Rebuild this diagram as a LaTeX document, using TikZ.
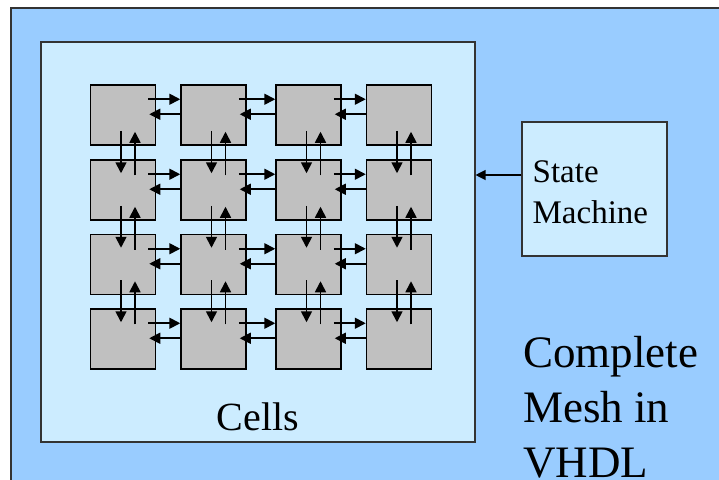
\documentclass[tikz,border=0pt]{standalone}
\usepackage{fontspec}
\setmainfont{Liberation Serif}
\usetikzlibrary{positioning, arrows.meta, calc}
\definecolor{meshbg}{HTML}{99CCFF}
\definecolor{panelbg}{HTML}{CCECFF}
\definecolor{cellgray}{HTML}{C0C0C0}
\tikzset{
  cell/.style ={draw=black, fill=cellgray, line width=1.5pt, minimum width=65pt,
                minimum height=60pt, inner sep=0pt},
  panel/.style={draw=black!80, fill=panelbg, line width=1.1pt, inner sep=0pt},
  flow/.style ={-{Triangle[length=11pt,width=11pt]}, line width=1.7pt},
  ctrl/.style ={-{Triangle[length=10pt,width=10pt]}, line width=1.2pt},
  lbl/.style  ={font=\fontsize{40}{48}\selectfont, anchor=base},
  small/.style={font=\fontsize{33}{41}\selectfont, align=left, inner sep=0pt},
  big/.style  ={font=\fontsize{45}{55}\selectfont, align=left, inner sep=0pt},
}
\begin{document}
\begin{tikzpicture}[x=1pt, y=-1pt]
  \useasboundingbox (0,0) rectangle (719,479);
  \clip (0,0) rectangle (719,479);
  \draw[draw=black!80, line width=1.1pt, fill=meshbg] (11,8) rectangle (740,500);
  \node[panel, minimum width=434pt, minimum height=400pt] (cells) at (258,242) {};
  \node[lbl] (cellstxt) at ($(cells.south)+(0,-12)$) {Cells};
  \node[panel, minimum width=145pt, minimum height=134pt] (fsm) at (594.5,189) {};
  \node[small, anchor=base west] (fsmtxt) at ([xshift=11pt,yshift=-102pt]fsm.north west) {State\\Machine};
  \draw[ctrl] ([yshift=14pt]fsm.west) -- ([yshift=14pt]fsm.west -| cells.east);
  \node[big, anchor=base west] (title) at (523,477) {Complete\\Mesh in\\VHDL};
  % 4x4 mesh of cells
  \foreach \i/\py in {1/115,2/190,3/264.5,4/339} {
    \foreach \j/\px in {1/123,2/213.5,3/308.5,4/399} {
      \node[cell] (c\i\j) at (\px,\py) {};
    }
  }
  % east/west links
  \foreach \i in {1,2,3,4} {
    \foreach \j in {1,2,3} {
      \pgfmathtruncatemacro{\k}{\j+1}
      \draw[flow] ([xshift=-8pt,yshift=-15pt]c\i\j.north east) -- ([yshift=-15pt]c\i\k.north west);
      \draw[flow] ([yshift=-30pt]c\i\k.north west) -- ([xshift=-7pt,yshift=-30pt]c\i\j.north east);
    }
  }
  % north/south links
  \foreach \i in {1,2,3} {
    \foreach \j in {1,2,3,4} {
      \pgfmathtruncatemacro{\k}{\i+1}
      \draw[flow] ([xshift=-2pt,yshift=15pt]c\i\j.south) -- ([xshift=-2pt,yshift=-14pt]c\k\j.north);
      \draw[flow] ([xshift=12pt,yshift=-16pt]c\k\j.north) -- ([xshift=12pt,yshift=14pt]c\i\j.south);
    }
  }
\end{tikzpicture}
\end{document}
